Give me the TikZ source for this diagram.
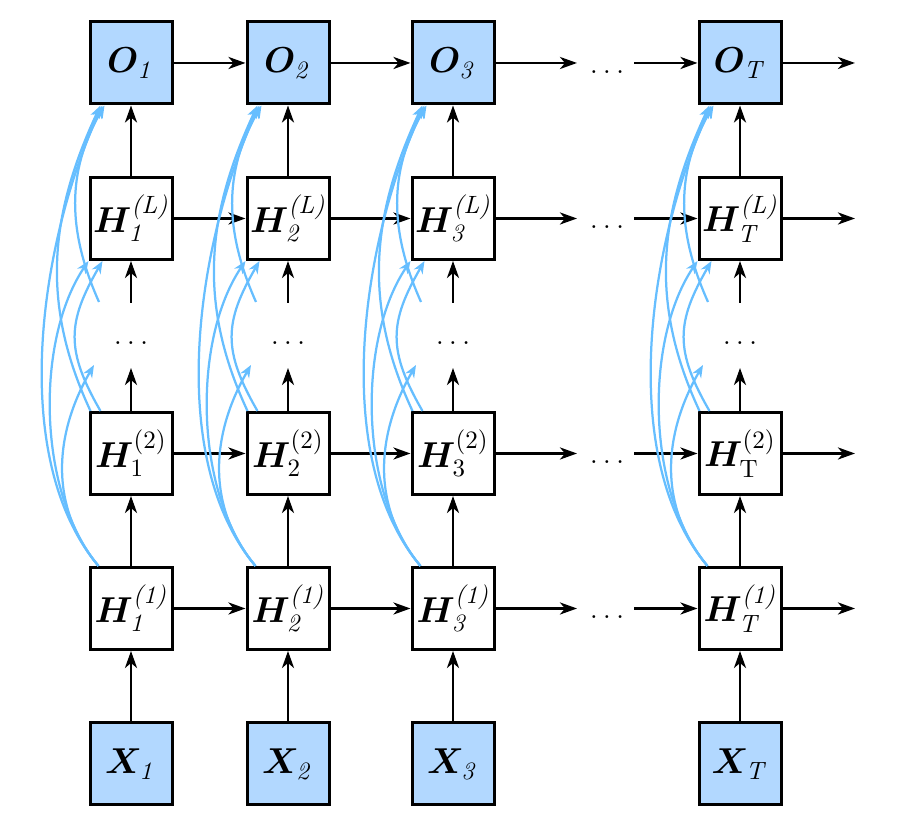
\documentclass[tikz,border=0pt]{standalone}
\usepackage{amsmath,bm}
\usetikzlibrary{arrows.meta,calc,positioning}
\definecolor{cellblue}{RGB}{178,216,255}
\definecolor{skipblue}{RGB}{102,190,255}

\begin{document}
\begin{tikzpicture}[x=0.4pt,y=0.4pt,
    cell/.style={draw,line width=1.2pt,minimum size=32.8pt,inner sep=0pt,font=\Large},
    io/.style={cell,fill=cellblue},
    flow/.style={-{Stealth[length=6.8pt,width=4.8pt,inset=2pt]},line width=1.1pt},
    skip/.style={-{Stealth[length=5pt,width=4pt,inset=1.6pt]},line width=0.9pt,skipblue},
    gap/.style={font=\large,inner sep=0pt}]
    \useasboundingbox (0,0) rectangle (901,824);

    % Cells, one column per time step
    \foreach \c/\x in {1/131,2/288,3/453,T/740} {
        \node[io]   (o\c)  at (\x,761)   {$\bm{O}_{\mathit{\c}}$};
        \node[cell] (hl\c) at (\x,605.5) {$\bm{H}^{\textit{(L)}}_{\mathit{\c}}$};
        \node[gap]  (v\c)  at (\x,481)   {$\ldots$};
        \node[cell] (hb\c) at (\x,370.5) {$\bm{H}^{(2)}_{\mathrm{\c}}$};
        \node[cell] (ha\c) at (\x,215.5) {$\bm{H}^{\textit{(1)}}_{\mathit{\c}}$};
        \node[io]   (x\c)  at (\x,60)    {$\bm{X}_{\mathit{\c}}$};
        \coordinate (vu\c) at (\x,456);
        \coordinate (vd\c) at (\x,521);
        \coordinate (s\c)  at (\x-32,522);
        \coordinate (t\c)  at (\x-37,459);

        % Layer to layer
        \draw[flow] (x\c) -- (ha\c);
        \draw[flow] (ha\c) -- (hb\c);
        \draw[flow] (hb\c) -- (vu\c);
        \draw[flow] (vd\c) -- (hl\c);
        \draw[flow] (hl\c) -- (o\c);
    }

    % Time steps
    \foreach \r/\y in {o/761,hl/605.5,hb/370.5,ha/215.5} {
        \coordinate (\r a) at (577,\y);
        \coordinate (\r b) at (634,\y);
        \coordinate (\r z) at (855,\y);
        \node[gap] (\r d) at (607,\y-9) {$\ldots$};
        \draw[flow] (\r1) -- (\r2);
        \draw[flow] (\r2) -- (\r3);
        \draw[flow] (\r3) -- (\r a);
        \draw[flow] (\r b) -- (\r T);
        \draw[flow] (\r T) -- (\r z);
    }

    % Dense links
    \foreach \c in {1,2,3,T} {
        \draw[skip] ([xshift=4pt]ha\c.north west) to[out=130,in=245,looseness=0.8] ([xshift=5.6pt]o\c.south west);
        \draw[skip] ([xshift=4pt]ha\c.north west) to[out=130,in=236,looseness=0.8] (hl\c.south west);
        \draw[skip] ([xshift=4pt]ha\c.north west) to[out=130,in=240] (t\c);
        \draw[skip] ([xshift=0.8pt]hb\c.north west) to[out=115,in=245] ([xshift=4.8pt]o\c.south west);
        \draw[skip] ([xshift=4.8pt]hb\c.north west) to[out=120,in=240,looseness=1.2] ([xshift=5.6pt]hl\c.south west);
        \draw[skip] (s\c) to[out=114,in=240] ([xshift=6.4pt]o\c.south west);
    }
\end{tikzpicture}
\end{document}
